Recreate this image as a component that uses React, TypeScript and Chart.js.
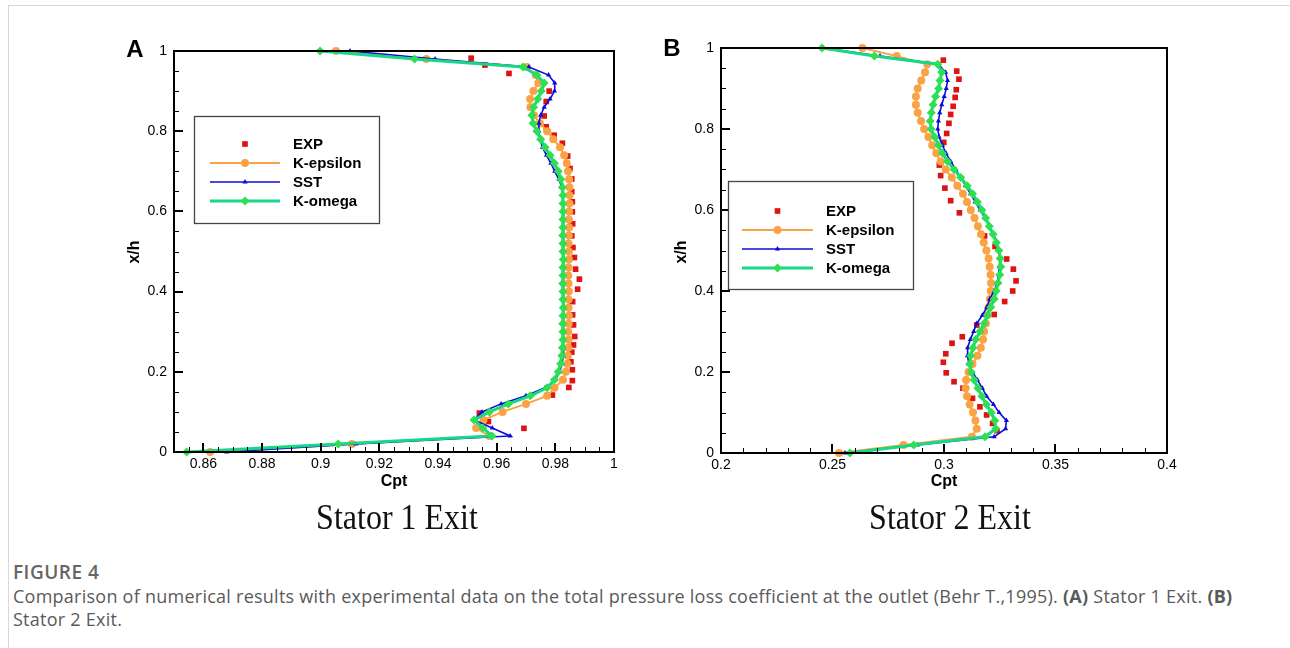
import React, { useEffect, useRef } from 'react';
import { Chart, registerables } from 'chart.js';

Chart.register(...registerables);
Chart.defaults.font.family = '"Liberation Sans", Arial, sans-serif';

// Spanwise stations (x/h) shared by all computed profiles, bottom to top
const yLevels = [
  0, 0.02, 0.04, 0.06, 0.08, 0.1, 0.12, 0.14, 0.16, 0.18,
  0.2, 0.22, 0.24, 0.26, 0.28, 0.3, 0.32, 0.34, 0.36, 0.38,
  0.4, 0.42, 0.44, 0.46, 0.48, 0.5, 0.52, 0.54, 0.56, 0.58,
  0.6, 0.62, 0.64, 0.66, 0.68, 0.7, 0.72, 0.74, 0.76, 0.78,
  0.8, 0.82, 0.84, 0.86, 0.88, 0.9, 0.92, 0.94, 0.96, 0.98, 1,
];

// ---- Stator 1 exit: Cpt at each station ----
const s1KEpsilon = [
  0.8623, 0.9106, 0.9575, 0.953, 0.9555, 0.962, 0.970, 0.9772, 0.9797, 0.9826,
  0.9836, 0.9841, 0.9843, 0.9844, 0.9845, 0.9844, 0.9845, 0.9846, 0.9845, 0.9845,
  0.9846, 0.9845, 0.9844, 0.9845, 0.9846, 0.9846, 0.9845, 0.9846, 0.9847, 0.9846,
  0.9847, 0.9848, 0.9848, 0.9848, 0.9847, 0.9843, 0.9839, 0.983, 0.9816, 0.9793,
  0.9772, 0.9747, 0.9727, 0.9715, 0.9714, 0.9725, 0.9742, 0.9733, 0.9703, 0.936, 0.9052,
];
const s1Sst = [
  0.868, 0.912, 0.9646, 0.9585, 0.9523, 0.955, 0.9615, 0.970, 0.9765, 0.980,
  0.9815, 0.9823, 0.9827, 0.9828, 0.9828, 0.9829, 0.9828, 0.9828, 0.9829, 0.9828,
  0.9828, 0.9827, 0.9828, 0.9829, 0.9828, 0.9828, 0.9828, 0.9829, 0.9828, 0.9828,
  0.9828, 0.9827, 0.9826, 0.9822, 0.9812, 0.9798, 0.9785, 0.977, 0.9756, 0.9748,
  0.9743, 0.9744, 0.975, 0.9762, 0.9782, 0.9797, 0.9798, 0.9777, 0.971, 0.939, 0.910,
];
const s1KOmega = [
  0.8543, 0.906, 0.9584, 0.9553, 0.9523, 0.9575, 0.964, 0.9715, 0.9772, 0.9797,
  0.981, 0.9818, 0.9822, 0.9824, 0.9826, 0.9826, 0.9825, 0.9826, 0.9827, 0.9826,
  0.9826, 0.9825, 0.9826, 0.9826, 0.9827, 0.9826, 0.9826, 0.9825, 0.9826, 0.9826,
  0.9826, 0.9826, 0.9826, 0.9824, 0.9819, 0.981, 0.9797, 0.9782, 0.9765, 0.975,
  0.9737, 0.9724, 0.972, 0.9726, 0.974, 0.9752, 0.9762, 0.9737, 0.969, 0.932, 0.8998,
];
// measured points (Cpt, x/h)
const s1ExpCpt = [
  0.9513, 0.956, 0.9642, 0.9779, 0.9769, 0.9762, 0.9769, 0.9796, 0.9824, 0.9842,
  0.985, 0.9856, 0.9856, 0.9858, 0.9858, 0.9859, 0.9856, 0.986, 0.9865, 0.9869,
  0.9882, 0.9876, 0.9859, 0.9859, 0.9862, 0.9866, 0.9862, 0.9856, 0.9853, 0.9858,
  0.9858, 0.9846, 0.979, 0.9541, 0.9572, 0.9693,
];
const s1ExpXh = [
  0.982, 0.965, 0.944, 0.9, 0.874, 0.838, 0.811, 0.79, 0.77, 0.738,
  0.707, 0.681, 0.649, 0.624, 0.599, 0.569, 0.539, 0.51, 0.485, 0.456,
  0.431, 0.406, 0.375, 0.342, 0.317, 0.288, 0.267, 0.249, 0.225, 0.205,
  0.178, 0.161, 0.142, 0.097, 0.076, 0.059,
];

// ---- Stator 2 exit: Cpt at each station ----
const s2KEpsilon = [
  0.2529, 0.2818, 0.3125, 0.3147, 0.3141, 0.313, 0.3115, 0.3103, 0.3097, 0.3099,
  0.311, 0.3128, 0.315, 0.3165, 0.3175, 0.318, 0.3188, 0.3194, 0.32, 0.3206,
  0.321, 0.3211, 0.3209, 0.3205, 0.32, 0.319, 0.3178, 0.3166, 0.3152, 0.3137,
  0.312, 0.3103, 0.3085, 0.306, 0.3035, 0.3008, 0.2985, 0.2965, 0.2947, 0.293,
  0.2911, 0.2897, 0.2882, 0.2874, 0.2874, 0.2882, 0.2898, 0.2915, 0.2925, 0.2788, 0.2634,
];
const s2Sst = [
  0.2556, 0.288, 0.3225, 0.3276, 0.328, 0.3247, 0.3222, 0.3191, 0.3172, 0.315,
  0.3128, 0.3112, 0.3105, 0.3106, 0.3118, 0.3133, 0.3147, 0.3172, 0.3192, 0.3205,
  0.3225, 0.3238, 0.3245, 0.3248, 0.325, 0.3245, 0.3236, 0.3222, 0.3203, 0.3184,
  0.3162, 0.314, 0.3119, 0.3096, 0.3075, 0.3053, 0.303, 0.3009, 0.2993, 0.2978,
  0.2972, 0.2975, 0.2981, 0.299, 0.3001, 0.301, 0.3016, 0.3007, 0.2975, 0.2713, 0.2459,
];
const s2KOmega = [
  0.2578, 0.2864, 0.3184, 0.3232, 0.3228, 0.3212, 0.319, 0.317, 0.3152, 0.3135,
  0.3122, 0.3115, 0.312, 0.313, 0.3142, 0.3161, 0.318, 0.3195, 0.321, 0.3225,
  0.3234, 0.3242, 0.325, 0.3255, 0.3252, 0.3246, 0.3235, 0.322, 0.3203, 0.3187,
  0.317, 0.315, 0.3128, 0.3104, 0.3075, 0.3045, 0.3016, 0.2993, 0.2975, 0.2958,
  0.2942, 0.2938, 0.2943, 0.2951, 0.2962, 0.2976, 0.2982, 0.299, 0.2972, 0.2688, 0.2453,
];
const s2ExpCpt = [
  0.2997, 0.3057, 0.3067, 0.3055, 0.305, 0.3041, 0.303, 0.3022, 0.3012, 0.2999,
  0.2979, 0.2985, 0.3004, 0.303, 0.3069, 0.3182, 0.3229, 0.3281, 0.3311, 0.3323,
  0.3308, 0.3272, 0.3225, 0.3147, 0.3082, 0.3036, 0.3008, 0.2997, 0.301, 0.3045,
  0.3085, 0.3128, 0.3161, 0.3191, 0.3218, 0.3238,
];
const s2ExpXh = [
  0.97, 0.943, 0.923, 0.897, 0.878, 0.856, 0.836, 0.814, 0.789, 0.767,
  0.711, 0.685, 0.654, 0.623, 0.593, 0.536, 0.51, 0.479, 0.454, 0.425,
  0.4, 0.374, 0.342, 0.316, 0.287, 0.271, 0.245, 0.224, 0.198, 0.176,
  0.16, 0.135, 0.114, 0.094, 0.073, 0.055,
];

// axis ticks
const s1XTicks = [0.86, 0.88, 0.9, 0.92, 0.94, 0.96, 0.98, 1];
const s2XTicks = [0.2, 0.25, 0.3, 0.35, 0.4];
const yTicks = [0, 0.2, 0.4, 0.6, 0.8, 1];
const seriesNames = ['EXP', 'K-epsilon', 'SST', 'K-omega'];

const RED = '#dd1414';
const ORANGE = '#fba244';
const BLUE = '#0c0cd8';
const GREEN_LINE = '#16d886';
const GREEN_MARK = '#2ee050';

type Mark = { style: string; r: number; fill: string };

function drawMark(ctx: CanvasRenderingContext2D, m: Mark, x: number, y: number) {
  const r = m.r;
  ctx.fillStyle = m.fill;
  ctx.beginPath();
  if (m.style === 'circle') {
    ctx.arc(x, y, r, 0, Math.PI * 2);
  } else if (m.style === 'rect') {
    const s = r * Math.SQRT1_2;
    ctx.rect(x - s, y - s, 2 * s, 2 * s);
  } else if (m.style === 'rectRot') {
    ctx.moveTo(x, y - r);
    ctx.lineTo(x + r, y);
    ctx.lineTo(x, y + r);
    ctx.lineTo(x - r, y);
    ctx.closePath();
  } else {
    const h = r * 1.5;
    ctx.moveTo(x, y - h * 2 / 3);
    ctx.lineTo(x + r * 0.87, y + h / 3);
    ctx.lineTo(x - r * 0.87, y + h / 3);
    ctx.closePath();
  }
  ctx.fill();
}

// Frame, inward major/minor ticks and the boxed legend
const framePlugin = {
  id: 'frame',
  afterDraw(chart: any, _args: any, opts: any) {
    const { ctx, chartArea: a, scales } = chart;
    const xs = scales.x;
    const ys = scales.y;
    ctx.save();
    ctx.strokeStyle = '#000';

    const steps = (min: number, max: number, step: number) => {
      const out: number[] = [];
      const n = Math.round((max - min) / step);
      for (let i = 0; i <= n; i++) out.push(min + i * step);
      return out;
    };
    const isMajor = (v: number, majors: number[]) => majors.some((m) => Math.abs(m - v) < 1e-9);

    ctx.lineWidth = 1;
    ctx.beginPath();
    for (const v of steps(xs.min, xs.max, opts.xMinor)) {
      if (isMajor(v, opts.xMajor)) continue;
      const px = Math.round(xs.getPixelForValue(v)) + 0.5;
      ctx.moveTo(px, a.bottom);
      ctx.lineTo(px, a.bottom - 5);
    }
    for (const v of steps(ys.min, ys.max, opts.yMinor)) {
      if (isMajor(v, yTicks)) continue;
      const py = Math.round(ys.getPixelForValue(v)) + 0.5;
      ctx.moveTo(a.left, py);
      ctx.lineTo(a.left + 5, py);
    }
    ctx.stroke();

    ctx.lineWidth = 2;
    ctx.beginPath();
    for (const v of opts.xMajor) {
      const px = Math.round(xs.getPixelForValue(v));
      ctx.moveTo(px, a.bottom);
      ctx.lineTo(px, a.bottom - 9);
    }
    for (const v of yTicks) {
      const py = Math.round(ys.getPixelForValue(v));
      ctx.moveTo(a.left, py);
      ctx.lineTo(a.left + 9, py);
    }
    ctx.stroke();

    ctx.lineWidth = 2;
    ctx.strokeRect(a.left, a.top, a.right - a.left, a.bottom - a.top);

    // legend
    const L = opts.legend;
    ctx.fillStyle = '#fff';
    ctx.fillRect(L.left, L.top, L.width, L.height);
    ctx.lineWidth = 1.3;
    ctx.strokeStyle = '#444';
    ctx.strokeRect(L.left + 0.5, L.top + 0.5, L.width, L.height);
    ctx.font = 'bold 15px "Liberation Sans", Arial, sans-serif';
    ctx.textBaseline = 'middle';
    ctx.textAlign = 'left';
    chart.data.datasets.forEach((ds: any, i: number) => {
      const y = L.rowTop + i * L.rowGap;
      const cx = (L.lineX1 + L.lineX2) / 2;
      if (ds.showLine) {
        ctx.strokeStyle = ds.borderColor;
        ctx.lineWidth = ds.borderWidth;
        ctx.beginPath();
        ctx.moveTo(L.lineX1, y);
        ctx.lineTo(L.lineX2, y);
        ctx.stroke();
      }
      drawMark(ctx, { style: ds.pointStyle, r: ds.pointRadius, fill: ds.pointBackgroundColor }, cx, y);
      ctx.fillStyle = '#000';
      ctx.fillText(ds.label, L.textX, y + 1);
    });
    ctx.restore();
  },
};

const pts = (xsv: number[], ysv: number[]) => xsv.map((v, i) => ({ x: v, y: ysv[i] }));

type PanelSpec = {
  xMin: number;
  xMax: number;
  xTicks: number[];
  xMinor: number;
  kEps: number[];
  sst: number[];
  kOmega: number[];
  expCpt: number[];
  expXh: number[];
  padding: { top: number; right: number; bottom: number; left: number };
  yWidth: number;
  xHeight: number;
  legend: any;
};

function makeConfig(p: PanelSpec): any {
  return {
    type: 'scatter',
    data: {
      datasets: [
        {
          label: seriesNames[0],
          data: pts(p.expCpt, p.expXh),
          showLine: false,
          pointStyle: 'rect',
          pointRadius: 4,
          pointBackgroundColor: RED,
          pointBorderWidth: 0,
          backgroundColor: RED,
          borderColor: RED,
          order: 3,
          clip: false,
        },
        {
          label: seriesNames[1],
          data: pts(p.kEps, yLevels),
          showLine: true,
          tension: 0,
          borderColor: ORANGE,
          borderWidth: 2,
          pointStyle: 'circle',
          pointRadius: 4,
          pointBackgroundColor: ORANGE,
          pointBorderWidth: 0,
          order: 2,
          clip: false,
        },
        {
          label: seriesNames[2],
          data: pts(p.sst, yLevels),
          showLine: true,
          tension: 0,
          borderColor: BLUE,
          borderWidth: 1.6,
          pointStyle: 'triangle',
          pointRadius: 3,
          pointBackgroundColor: BLUE,
          pointBorderWidth: 0,
          order: 1,
          clip: false,
        },
        {
          label: seriesNames[3],
          data: pts(p.kOmega, yLevels),
          showLine: true,
          tension: 0,
          borderColor: GREEN_LINE,
          borderWidth: 3,
          pointStyle: 'rectRot',
          pointRadius: 4.5,
          pointBackgroundColor: GREEN_MARK,
          pointBorderWidth: 0,
          order: 0,
          clip: false,
        },
      ],
    },
    options: {
      animation: false,
      responsive: false,
      events: [],
      layout: { padding: p.padding },
      plugins: {
        legend: { display: false },
        tooltip: { enabled: false },
        frame: { xMajor: p.xTicks, xMinor: p.xMinor, yMinor: 0.05, legend: p.legend },
      },
      scales: {
        x: {
          type: 'linear',
          min: p.xMin,
          max: p.xMax,
          grid: { display: false, drawTicks: false },
          border: { display: false },
          afterBuildTicks: (s: any) => {
            s.ticks = p.xTicks.map((v) => ({ value: v }));
          },
          afterFit: (s: any) => {
            s.height = p.xHeight;
          },
          ticks: {
            autoSkip: false,
            maxRotation: 0,
            padding: 4,
            color: '#000',
            font: { size: 14 },
            callback: (v: number) => String(v),
          },
        },
        y: {
          type: 'linear',
          min: 0,
          max: 1,
          grid: { display: false, drawTicks: false },
          border: { display: false },
          afterBuildTicks: (s: any) => {
            s.ticks = yTicks.map((v) => ({ value: v }));
          },
          afterFit: (s: any) => {
            s.width = p.yWidth;
          },
          ticks: {
            autoSkip: false,
            padding: 7,
            color: '#000',
            font: { size: 14 },
            callback: (v: number) => String(v),
          },
        },
      },
    },
    plugins: [framePlugin],
  };
}

function Plot({ left, top, width, height, spec }: { left: number; top: number; width: number; height: number; spec: PanelSpec }) {
  const ref = useRef<HTMLCanvasElement>(null);
  useEffect(() => {
    const chart = new Chart(ref.current as HTMLCanvasElement, makeConfig(spec));
    return () => chart.destroy();
  }, []);
  return (
    <canvas
      ref={ref}
      width={width}
      height={height}
      style={{ position: 'absolute', left, top, width, height }}
    />
  );
}

function Text({ x, y, children, style, rotate, stretch }: { x: number; y: number; children: React.ReactNode; style?: React.CSSProperties; rotate?: boolean; stretch?: number }) {
  let t = 'translate(-50%, -50%)';
  if (rotate) t += ' rotate(-90deg)';
  if (stretch) t += ` scale(1, ${stretch})`;
  return (
    <div
      style={{
        position: 'absolute',
        left: x,
        top: y,
        transform: t,
        whiteSpace: 'nowrap',
        lineHeight: 1,
        ...style,
      }}
    >
      {children}
    </div>
  );
}

const stator1: PanelSpec = {
  xMin: 0.85,
  xMax: 1,
  xTicks: s1XTicks,
  xMinor: 0.005,
  kEps: s1KEpsilon,
  sst: s1Sst,
  kOmega: s1KOmega,
  expCpt: s1ExpCpt,
  expXh: s1ExpXh,
  padding: { top: 21, right: 16, bottom: 0, left: 0 },
  yWidth: 84,
  xHeight: 48,
  legend: { left: 104, top: 86, width: 185, height: 107, rowTop: 114, rowGap: 19, lineX1: 120, lineX2: 190, textX: 203 },
};

const stator2: PanelSpec = {
  xMin: 0.2,
  xMax: 0.4,
  xTicks: s2XTicks,
  xMinor: 0.01,
  kEps: s2KEpsilon,
  sst: s2Sst,
  kOmega: s2KOmega,
  expCpt: s2ExpCpt,
  expXh: s2ExpXh,
  padding: { top: 21, right: 18, bottom: 0, left: 0 },
  yWidth: 81,
  xHeight: 47,
  legend: { left: 88, top: 154, width: 185, height: 108, rowTop: 184, rowGap: 19, lineX1: 102, lineX2: 173, textX: 186 },
};

const axisTitle: React.CSSProperties = {
  fontFamily: '"Liberation Sans", Arial, sans-serif',
  fontWeight: 'bold',
  fontSize: 16,
  color: '#000',
};
const panelLetter: React.CSSProperties = {
  fontFamily: '"Liberation Sans", Arial, sans-serif',
  fontWeight: 'bold',
  fontSize: 24,
  color: '#000',
};
const subTitle: React.CSSProperties = {
  fontFamily: '"Liberation Serif", "Times New Roman", serif',
  fontSize: 32,
  color: '#111',
};

export default function App() {
  return (
    <div style={{ position: 'absolute', left: 0, top: 0, width: 1290, height: 648, overflow: 'hidden', background: '#fff' }}>
      <div
        style={{
          position: 'absolute',
          left: 8,
          top: 5,
          width: 1300,
          height: 700,
          borderTop: '1px solid #d8d8d8',
          borderLeft: '1px solid #d8d8d8',
        }}
      />
      <Plot left={90} top={30} width={540} height={470} spec={stator1} />
      <Plot left={640} top={27} width={545} height={473} spec={stator2} />

      <Text x={135} y={49} style={panelLetter}>A</Text>
      <Text x={672} y={48} style={panelLetter}>B</Text>
      <Text x={134} y={252} style={axisTitle} rotate>x/h</Text>
      <Text x={681} y={252} style={axisTitle} rotate>x/h</Text>
      <Text x={394} y={481} style={axisTitle}>Cpt</Text>
      <Text x={944} y={481} style={axisTitle}>Cpt</Text>
      <Text x={397} y={517} style={subTitle} stretch={1.12}>Stator 1 Exit</Text>
      <Text x={950} y={517} style={subTitle} stretch={1.12}>Stator 2 Exit</Text>

      <div
        style={{
          position: 'absolute',
          left: 13,
          top: 561,
          width: 1270,
          fontFamily: '"Open Sans", "Noto Sans", sans-serif',
          fontSize: 18,
          letterSpacing: 0.25,
          lineHeight: '23.5px',
          color: '#5a5a5a',
          whiteSpace: 'nowrap',
        }}
      >
        <div style={{ fontWeight: 600, color: '#666', fontSize: 19, letterSpacing: 0.5 }}>FIGURE 4</div>
        <div>
          Comparison of numerical results with experimental data on the total pressure loss coefficient at the outlet
          (Behr T.,1995). <b>(A)</b> Stator 1 Exit. <b>(B)</b>
          <br />
          Stator 2 Exit.
        </div>
      </div>
    </div>
  );
}
